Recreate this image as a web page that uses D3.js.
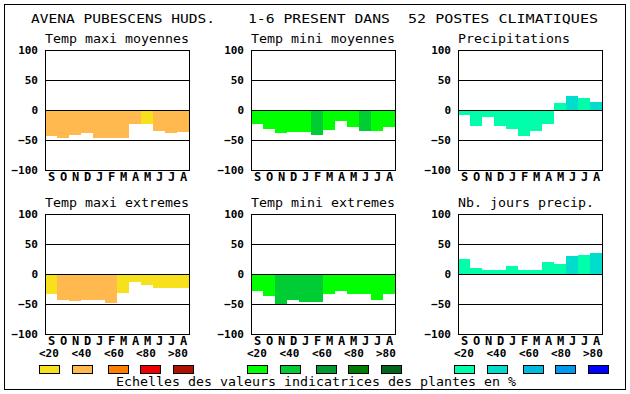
<!DOCTYPE html>
<html>
<head>
<meta charset="utf-8">
<script src="https://cdn.jsdelivr.net/npm/d3@7"></script>
<style>
  body { margin: 0; background: #fff; }
  svg { display: block; }
  text { font-family: "DejaVu Sans Mono", monospace; fill: #000; }
  .bold { font-weight: bold; font-size: 11px; }
  .month { font-weight: bold; font-size: 12px; }
</style>
</head>
<body>
<div id="chart"></div>
<script>
// months (Sept -> Aug)
var months = ["S", "O", "N", "D", "J", "F", "M", "A", "M", "J", "J", "A"];
var yTicks = [100, 50, 0, -50, -100];
var scaleLabels = ["<20", "<40", "<60", "<80", ">80"];

// colour scales for the 3 legend groups
var warmColors = ["#f6e11c", "#ffb94f", "#ff7f00", "#ee0000", "#b01000"];
var greenColors = ["#00ff00", "#00cc33", "#009a30", "#007d00", "#00661e"];
var blueColors = ["#00ffaa", "#00ddcc", "#00bbe0", "#0099ee", "#0000ff"];

// values per panel
var maxiMoy = [-43, -46, -42, -38, -46, -46, -46, -23, -23, -35, -38, -37];
var maxiMoyCls = [1, 1, 1, 1, 1, 1, 1, 1, 0, 1, 1, 1];
var miniMoy = [-23, -31, -38, -36, -36, -41, -33, -18, -28, -35, -35, -28];
var miniMoyCls = [0, 0, 0, 0, 0, 1, 0, 0, 0, 1, 0, 0];
var precip = [-8, -26, -12, -26, -31, -43, -35, -23, 12, 23, 20, 13];
var precipCls = [0, 0, 0, 0, 0, 0, 0, 0, 0, 1, 0, 1];
var maxiExt = [-33, -43, -45, -43, -43, -48, -31, -13, -18, -24, -24, -24];
var maxiExtCls = [0, 1, 1, 1, 1, 1, 0, 0, 0, 0, 0, 0];
var miniExt = [-28, -36, -50, -43, -47, -47, -34, -28, -34, -34, -43, -34];
var miniExtCls = [0, 0, 1, 1, 1, 1, 0, 0, 0, 0, 0, 0];
var joursPrecip = [25, 10, 7, 7, 13, 7, 7, 20, 17, 30, 32, 35];
var joursPrecipCls = [0, 0, 0, 0, 0, 0, 0, 0, 0, 1, 0, 1];

var width = 630, height = 394;
var svg = d3.select("#chart").append("svg")
  .attr("width", width)
  .attr("height", height);

// outer frame
svg.append("rect")
  .attr("x", 4.5).attr("y", 4.5)
  .attr("width", 621).attr("height", 385)
  .attr("fill", "none").attr("stroke", "#000");

// main title
var titleParts = [
  {t: "AVENA PUBESCENS HUDS.", x: 31, w: 184},
  {t: "1-6 PRESENT DANS", x: 248, w: 142},
  {t: "52 POSTES CLIMATIQUES", x: 408, w: 190}
];
svg.selectAll("text.title").data(titleParts).enter().append("text")
  .attr("class", "title")
  .attr("x", function(d) { return d.x; })
  .attr("y", 23)
  .attr("textLength", function(d) { return d.w; })
  .attr("lengthAdjust", "spacingAndGlyphs")
  .style("font-size", "13px")
  .text(function(d) { return d.t; });

var panels = [
  {title: "Temp maxi moyennes", vals: maxiMoy, cls: maxiMoyCls, colors: warmColors, col: 0, row: 0},
  {title: "Temp mini moyennes", vals: miniMoy, cls: miniMoyCls, colors: greenColors, col: 1, row: 0},
  {title: "Precipitations", vals: precip, cls: precipCls, colors: blueColors, col: 2, row: 0},
  {title: "Temp maxi extremes", vals: maxiExt, cls: maxiExtCls, colors: warmColors, col: 0, row: 1},
  {title: "Temp mini extremes", vals: miniExt, cls: miniExtCls, colors: greenColors, col: 1, row: 1},
  {title: "Nb. jours precip.", vals: joursPrecip, cls: joursPrecipCls, colors: blueColors, col: 2, row: 1}
];

var colX = [45, 251, 458], rowY = [50, 214];
var pw = 144, ph = 120;

panels.forEach(drawPanel);

function drawPanel(p) {
  var x0 = colX[p.col], y0 = rowY[p.row];
  var x = d3.scaleBand().domain(d3.range(12)).range([x0, x0 + pw]).padding(0);
  var y = d3.scaleLinear().domain([-100, 100]).range([y0 + ph, y0]);
  var g = svg.append("g");

  g.append("text")
    .attr("x", x0).attr("y", y0 - 7)
    .attr("textLength", p.title.length * 8)
    .attr("lengthAdjust", "spacingAndGlyphs")
    .style("font-size", "13px")
    .text(p.title);

  g.selectAll("rect.bar").data(p.vals).enter().append("rect")
    .attr("class", "bar")
    .attr("x", function(d, i) { return x(i); })
    .attr("width", x.bandwidth())
    .attr("y", function(d) { return y(Math.max(0, d)); })
    .attr("height", function(d) { return Math.abs(y(d) - y(0)); })
    .attr("fill", function(d, i) { return p.colors[p.cls[i]]; })
    .attr("shape-rendering", "crispEdges");

  g.selectAll("line.grid").data([50, 0, -50]).enter().append("line")
    .attr("x1", x0).attr("x2", x0 + pw)
    .attr("y1", function(d) { return Math.round(y(d)) + 0.5; })
    .attr("y2", function(d) { return Math.round(y(d)) + 0.5; })
    .attr("stroke", "#000");

  g.append("rect")
    .attr("x", x0 + 0.5).attr("y", y0 + 0.5)
    .attr("width", pw).attr("height", ph)
    .attr("fill", "none").attr("stroke", "#000");

  var ya = d3.axisLeft(y).tickValues(yTicks).tickSize(0).tickPadding(7);
  var ag = g.append("g").attr("transform", "translate(" + x0 + ",0)").call(ya);
  ag.select(".domain").remove();
  ag.selectAll("text").attr("class", "bold").attr("dy", "0.36em");

  g.selectAll("text.month").data(months).enter().append("text")
    .attr("class", "month")
    .attr("x", function(d, i) { return x(i) + x.bandwidth() / 2 + 0.5; })
    .attr("y", y0 + ph + 11)
    .attr("text-anchor", "middle")
    .text(function(d) { return d; });
}

// legend
var groups = [warmColors, greenColors, blueColors];
var groupX = [39, 247, 454];
var labelOff = [0, 32.5, 65, 97, 129];
var boxOff = [0, 33, 69, 101, 134];
groups.forEach(function(cols, gi) {
  var gx = groupX[gi];
  svg.selectAll(null).data(scaleLabels).enter().append("text")
    .attr("class", "bold")
    .attr("x", function(d, i) { return gx + labelOff[i]; })
    .attr("y", 357)
    .text(function(d) { return d; });
  svg.selectAll(null).data(cols).enter().append("rect")
    .attr("x", function(d, i) { return Math.round(gx + boxOff[i]) + 0.5; })
    .attr("y", 365.5)
    .attr("width", 20).attr("height", 8)
    .attr("fill", function(d) { return d; })
    .attr("stroke", "#000");
});

svg.append("text")
  .attr("x", 116).attr("y", 386)
  .attr("textLength", 400)
  .attr("lengthAdjust", "spacingAndGlyphs")
  .style("font-size", "13px")
  .text("Echelles des valeurs indicatrices des plantes en %");
</script>
</body>
</html>
